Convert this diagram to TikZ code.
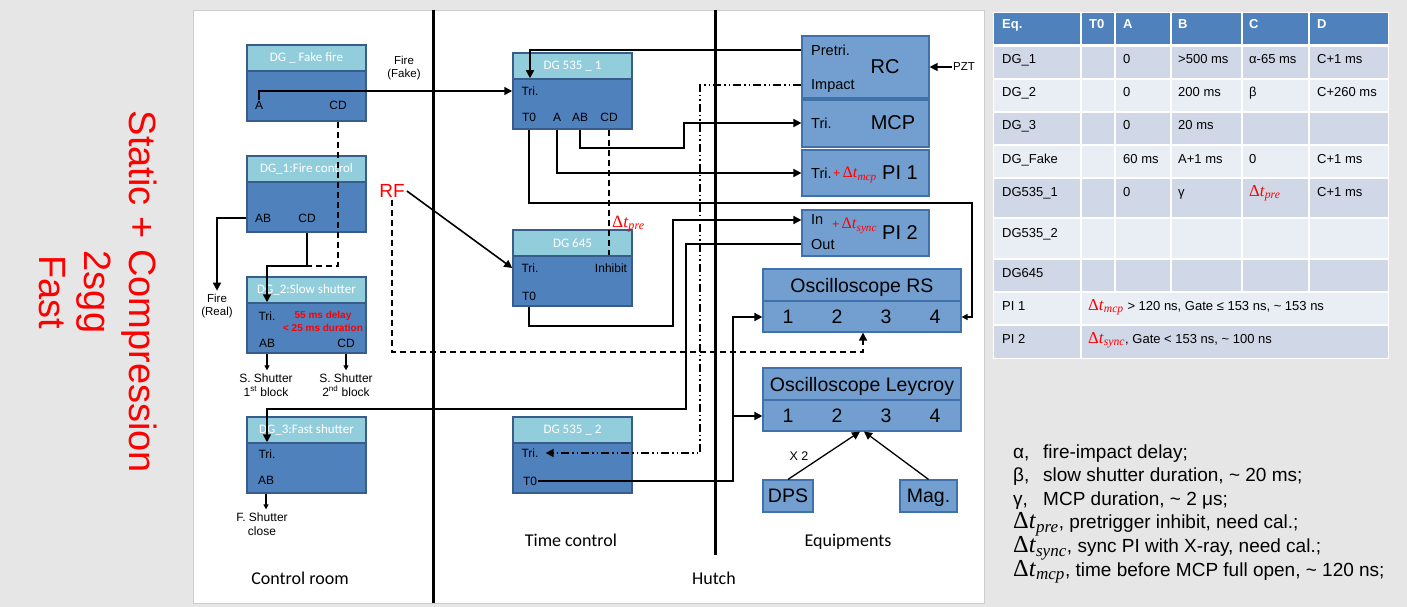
\RequirePackage{fix-cm}
\documentclass[tikz,border=0pt]{standalone}
\usepackage{fontspec}
\setmainfont{Liberation Sans}
\newfontfamily\calfont{Carlito}
\newfontfamily\greekserif{Liberation Serif}
\newcommand\dtv[1]{\scalebox{1.28}{\greekserif Δ\textit{t}\textsubscript{\textit{#1}}}}
\usetikzlibrary{arrows.meta}

\definecolor{pagegray}{RGB}{230,230,230}
\definecolor{panelline}{RGB}{205,205,205}
\definecolor{dgtop}{RGB}{146,205,220}
\definecolor{dgblue}{RGB}{79,129,189}
\definecolor{dgline}{RGB}{56,93,138}
\definecolor{eqblue}{RGB}{114,159,207}
\definecolor{eqline}{RGB}{65,113,170}
\definecolor{tabodd}{RGB}{208,216,232}
\definecolor{tabeven}{RGB}{233,237,244}

\begin{document}
\begin{tikzpicture}[x=1pt,y=-1pt,
  dghead/.style={draw=dgline,fill=dgtop,line width=1.5pt,minimum width=119pt,minimum height=26pt,inner sep=0pt,text=white,font=\calfont\fontsize{13}{15}\selectfont},
  dgbody/.style={draw=dgline,fill=dgblue,line width=1.5pt,minimum width=119pt,minimum height=50pt,inner sep=0pt},
  port/.style={inner sep=1pt,text depth=0pt,font=\fontsize{12}{14}\selectfont},
  note/.style={align=center,inner sep=3pt,font=\fontsize{11.5}{13.5}\selectfont},
  eqbox/.style={draw=eqline,fill=eqblue,line width=1.2pt,inner sep=0pt},
  eqport/.style={inner sep=1pt,text depth=0pt,anchor=west,font=\fontsize{14.5}{16}\selectfont},
  eqname/.style={inner sep=1pt,text depth=0pt,font=\fontsize{20}{22}\selectfont},
  chan/.style={inner sep=1pt,text depth=0pt,font=\fontsize{19.5}{22}\selectfont},
  dt/.style={inner sep=1pt,anchor=west,text=red,font=\fontsize{12.5}{15}\selectfont},
  section/.style={inner sep=1pt,text depth=0pt,font=\calfont\fontsize{18}{20}\selectfont},
  conn/.style={line width=1.6pt},
  arr/.style={conn,-{Triangle[length=8pt,width=8pt]}},
  sarr/.style={line width=1.2pt,-{Triangle[length=5pt,width=5pt]}},
  dashline/.style={conn,dash pattern=on 6pt off 4pt},
  dotline/.style={conn,dash pattern=on 8pt off 3pt on 1.5pt off 3pt on 1.5pt off 3pt},
  divider/.style={line width=3pt},
  cell/.style={anchor=base west,inner sep=0pt,font=\fontsize{13}{15}\selectfont},
  cellhead/.style={cell,text=white,font=\bfseries\fontsize{13}{15}\selectfont},
  legend/.style={anchor=base west,inner sep=0pt,font=\fontsize{19}{23}\selectfont}]

\useasboundingbox (0,0) rectangle (1407,607);
\fill[pagegray] (0,0) rectangle (1407,607);
\filldraw[fill=white,draw=panelline] (193,10) rectangle (984,603);

\node[text=red,rotate=-90,align=center,font=\fontsize{38}{45}\selectfont] (title) at (98,292) {Static + Compression\\2sgg\\Fast};

\draw[divider] (433,10) -- (433,603);
\draw[divider] (715,10) -- (715,555);

\node[section] (room) at (300,578) {Control room};
\node[section] (timing) at (571,540) {Time control};
\node[section] (hutch) at (714,578) {Hutch};
\node[section] (equip) at (848,540) {Equipments};

% control room
\node[dghead] (fakeh) at (306.5,58) {DG \_ Fake fire};
\node[dgbody] (fake) at (306.5,96) {};
\node[port] (fakeA) at (259,105) {A};
\node[port] (fakeCD) at (338,105) {CD};

\node[dghead] (d1h) at (306.5,169) {DG\_1:Fire control};
\node[dgbody] (d1) at (306.5,207) {};
\node[port] (d1AB) at (263,218) {AB};
\node[port] (d1CD) at (307,218) {CD};

\node[dghead] (d2h) at (306.5,290) {DG\_2:Slow shutter};
\node[dgbody] (d2) at (306.5,328) {};
\node[port] (d2Tri) at (267,316) {Tri.};
\node[port] (d2AB) at (267,343) {AB};
\node[port] (d2CD) at (346,343) {CD};
\node[text=red,align=center,inner sep=0pt,font=\bfseries\fontsize{10}{13}\selectfont] (d2note) at (323,321) {55 ms delay\\< 25 ms duration};

\node[dghead] (d3h) at (306.5,430) {DG\_3:Fast shutter};
\node[dgbody] (d3) at (306.5,468) {};
\node[port] (d3Tri) at (267,454) {Tri.};
\node[port] (d3AB) at (266,480) {AB};

\node[note] (fireFake) at (404,68) {Fire\\(Fake)};
\node[note] (fireReal) at (217,306) {Fire\\(Real)};
\node[note,font=\fontsize{12}{14}\selectfont] (ss1) at (266,385) {S. Shutter\\1\textsuperscript{st} block};
\node[note,font=\fontsize{12}{14}\selectfont] (ss2) at (346,385) {S. Shutter\\2\textsuperscript{nd} block};
\node[note,font=\fontsize{12}{14}\selectfont] (fsh) at (262,524) {F. Shutter\\close};

% time control
\node[dghead] (t1h) at (572.5,66) {DG 535 \_ 1};
\node[dgbody] (t1) at (572.5,104) {};
\node[port] (t1Tri) at (530,91) {Tri.};
\node[port] (t1T0) at (529,117) {T0};
\node[port] (t1A) at (557,117) {A};
\node[port] (t1AB) at (580,117) {AB};
\node[port] (t1CD) at (609,117) {CD};

\node[dghead] (gh) at (572.5,243) {DG 645};
\node[dgbody] (g) at (572.5,281) {};
\node[port] (gTri) at (530,268) {Tri.};
\node[port] (gInh) at (611,268) {Inhibit};
\node[port] (gT0) at (529,296) {T0};

\node[dghead] (t2h) at (572.5,430) {DG 535 \_ 2};
\node[dgbody] (t2) at (572.5,468) {};
\node[port] (t2Tri) at (530,453) {Tri.};
\node[port] (t2T0) at (530,481) {T0};

\node[dt,font=\fontsize{13.5}{15}\selectfont] (dtPre) at (611,224) {\dtv{pre}};
\node[text=red,inner sep=2pt,font=\fontsize{19}{21}\selectfont] (rf) at (392,191) {RF};

% equipments
\node[eqbox,minimum width=127pt,minimum height=62pt] (rc) at (865.5,67) {};
\node[eqport] (rcPre) at (810,50) {Pretri.};
\node[eqport] (rcImp) at (810,85) {Impact};
\node[eqname] (rcName) at (885,67) {RC};
\node[eqbox,minimum width=127pt,minimum height=47pt] (mcp) at (865.5,123.5) {};
\node[eqport] (mcpTri) at (810,123) {Tri.};
\node[eqname] (mcpName) at (893,123) {MCP};
\node[eqbox,minimum width=127pt,minimum height=46pt] (pi1) at (865.5,173) {};
\node[eqport] (pi1Tri) at (810,173) {Tri.};
\node[dt] (pi1Dt) at (832,175) {+\,\dtv{mcp}};
\node[eqname] (pi1Name) at (900,173) {PI 1};
\node[eqbox,minimum width=127pt,minimum height=46pt] (pi2) at (865.5,233) {};
\node[eqport] (pi2In) at (810,220) {In};
\node[dt] (pi2Dt) at (831,226) {+\,\dtv{sync}};
\node[eqname] (pi2Name) at (900,233) {PI 2};
\node[eqport] (pi2Out) at (810,244) {Out};

\node[eqbox,chan,minimum width=198pt,minimum height=32pt] (rsh) at (862,285) {Oscilloscope RS};
\node[eqbox,minimum width=198pt,minimum height=31pt] (rs) at (862,316.5) {};
\foreach \n/\x in {1/788,2/837,3/886,4/935}
  \node[chan] (rs\n) at (\x,317) {\n};
\node[eqbox,chan,minimum width=198pt,minimum height=32pt] (lyh) at (862,384) {Oscilloscope Leycroy};
\node[eqbox,minimum width=198pt,minimum height=31pt] (ly) at (862,415.5) {};
\foreach \n/\x in {1/788,2/837,3/886,4/935}
  \node[chan] (ly\n) at (\x,416) {\n};
\node[eqbox,chan,minimum width=50pt,minimum height=32pt] (dps) at (788,496) {DPS};
\node[eqbox,chan,minimum width=57pt,minimum height=32pt] (mag) at (928.5,496) {Mag.};
\node[inner sep=1pt,font=\fontsize{12.5}{14}\selectfont] (times) at (799,456) {X 2};
\node[inner sep=1pt,font=\fontsize{11.5}{13}\selectfont] (pzt) at (964,67) {PZT};

\coordinate (join) at (307,266);
\coordinate (abBend) at (684,148);
\coordinate (t0Bend) at (972,203);
\coordinate (rfBend) at (863,352);
\coordinate (inBend) at (673,326);
\coordinate (outBend) at (686,409);
\coordinate (impBend) at (700,453);
\coordinate (bus) at (733,317);

\draw[arr] (fakeA.north) |- (t1Tri -| t1.west);
\draw[dashline] (fakeCD |- fake.south) |- (join);
\draw[arr] (d1CD |- d1.south) -- (join) -| (d2Tri |- d2.north);
\draw[arr] (d1AB -| d1.west) -| (fireReal.north);
\draw[sarr] (d2AB |- d2.south) -- (d2AB |- ss1.north);
\draw[sarr] (d2CD |- d2.south) -- (d2CD |- ss2.north);
\draw[sarr] (d3AB |- d3.south) -- (d3AB |- fsh.north);
\draw[arr] (rcPre -| rc.west) -| (t1Tri |- t1.north);
\draw[arr] (t1AB |- t1.south) |- (abBend) |- (mcpTri -| mcp.west);
\draw[arr] (t1A |- t1.south) |- (pi1Tri -| pi1.west);
\draw[conn,-{Triangle[length=6pt,width=6pt]}] (t1T0 |- t1.south) |- (t0Bend) |- (rs4 -| rs.east);
\draw[dashline] (t1CD |- t1.south) -- (t1CD |- g.north);
\draw[arr] (rf.east) -- (gTri -| g.west);
\draw[dashline,-{Triangle[length=8pt,width=8pt]}] (rf.south) |- (rfBend) -- (rfBend |- rs.south);
\draw[arr] (gT0 |- g.south) |- (inBend) |- (pi2In -| pi2.west);
\draw[arr] (pi2Out -| pi2.west) -| (outBend) -| (d3Tri |- d3.north);
\draw[dotline,-{Triangle[length=8pt,width=8pt]},shorten >=6pt] (rcImp -| rc.west) -| (impBend) -- (t2Tri.east);
\draw[arr] (t2T0.east) -| (bus) -- (rs1 -| rs.west);
\draw[arr] (bus |- ly1) -- (ly1 -| ly.west);
\draw[arr,line width=1.3pt] (dps.north) -- ([xshift=-2pt]ly.south);
\draw[arr,line width=1.3pt] (mag.north) -- ([xshift=2pt]ly.south);
\draw[arr,line width=1.3pt] (pzt.west) -- (rc.east);

% table
\fill[dgblue] (993,13) rectangle (1388,45);
\foreach \top/\bot/\c in {45/79/tabodd,79/112/tabeven,112/145/tabodd,145/178/tabeven,178/218/tabodd,218/259/tabeven,259/292/tabodd,292/325/tabeven,325/358/tabodd}
  \fill[\c] (993,\top) rectangle (1388,\bot);
\foreach \y in {79,112,145,178,218,259,292,325}
  \draw[white,line width=2pt] (993,\y) -- (1388,\y);
\draw[white,line width=3pt] (993,45.5) -- (1388,45.5);
\foreach \x in {1115,1171,1242,1309}
  \draw[white,line width=2pt] (\x,13) -- (\x,292);
\draw[white,line width=2pt] (1081,13) -- (1081,358);
\draw[white,line width=1pt] (993,13) rectangle (1388,358);

\foreach \t/\x [count=\i] in {Eq./1002,T0/1089,A/1123,B/1178,C/1249,D/1317}
  \node[cellhead] (head\i) at (\x,28.5) {\t};
\foreach \y/\e/\a/\b/\c/\d [count=\i] in {64/DG\_1/0/{>500 ms}/{α-65 ms}/{C+1 ms},97/DG\_2/0/{200 ms}/β/{C+260 ms},130/DG\_3/0/{20 ms}/{}/{},163/DG\_Fake/{60 ms}/{A+1 ms}/0/{C+1 ms},196/DG535\_1/0/γ/{\textcolor{red}{\dtv{pre}}}/{C+1 ms}}
{
  \node[cell] (eq\i) at (1002,\y) {\e};
  \node[cell] (a\i) at (1123,\y) {\a};
  \node[cell] (b\i) at (1178,\y) {\b};
  \node[cell] (c\i) at (1249,\y) {\c};
  \node[cell] (d\i) at (1317,\y) {\d};
}
\node[cell] (eq6) at (1002,237) {DG535\_2};
\node[cell] (eq7) at (1002,277) {DG645};
\node[cell] (eq8) at (1002,310) {PI 1};
\node[cell] (pi1Spec) at (1088,310) {\textcolor{red}{\dtv{mcp}} > 120 ns, Gate ≤ 153 ns, \textasciitilde{} 153 ns};
\node[cell] (eq9) at (1002,343) {PI 2};
\node[cell] (pi2Spec) at (1088,343) {\textcolor{red}{\dtv{sync}}, Gate < 153 ns, \textasciitilde{} 100 ns};

% legend
\foreach \t [count=\i] in {{\makebox[30pt][l]{α,}fire-impact delay;},{\makebox[30pt][l]{β,}slow shutter duration, \textasciitilde{} 20 ms;},{\makebox[30pt][l]{γ,}MCP duration, \textasciitilde{} 2 μs;},{\dtv{pre}, pretrigger inhibit, need cal.;},{\dtv{sync}, sync PI with X-ray, need cal.;},{\dtv{mcp}, time before MCP full open, \textasciitilde{} 120 ns;}}
  \node[legend] (leg\i) at (1013,{434.4+23.6*\i}) {\t};
\end{tikzpicture}
\end{document}
